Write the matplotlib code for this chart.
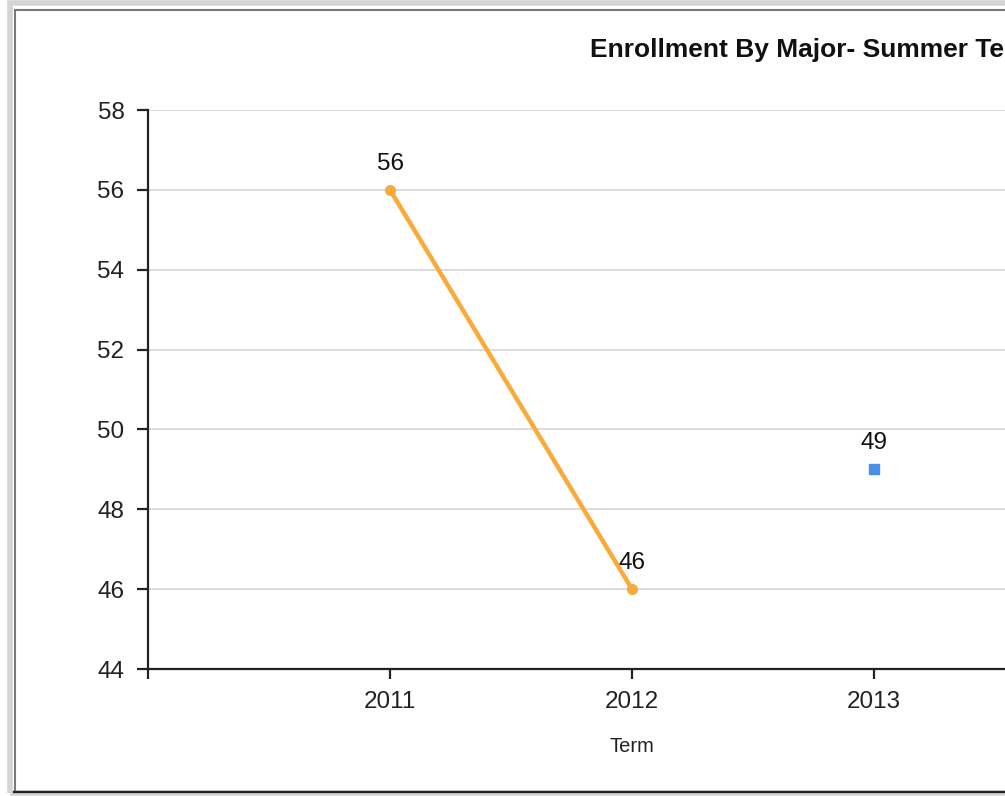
import matplotlib.pyplot as plt
from matplotlib.patches import Rectangle
import numpy as np

plt.rcParams['font.family'] = ['Liberation Sans', 'DejaVu Sans']

terms = [2011, 2012, 2013]
orange_vals = [56, 46, np.nan]
blue_terms = [2013]
blue_vals = [49]
y_ticks = [44, 46, 48, 50, 52, 54, 56, 58]

W, H = 1005, 796
fig = plt.figure(figsize=(W / 100, H / 100), dpi=100)

# frame round the chart (light outer band, dark inner line)
fig.patches.append(Rectangle((10 / W, 3 / H), 1, (H - 6) / H, transform=fig.transFigure,
                             fill=False, ec='#d4d4d4', lw=4))
fig.patches.append(Rectangle((15 / W, 4 / H), 1, (H - 13.5) / H, transform=fig.transFigure,
                             fill=False, ec='#7a7a7a', lw=1.5))
fig.add_artist(plt.Line2D([14 / W, 1], [4 / H, 4 / H], transform=fig.transFigure,
                          color='#222222', lw=1.6))

# axes: 2010 at x=148px, one term per 242px, y from 44 (669px) to 58 (110px)
left = 148 / W
ax = fig.add_axes([left, (H - 669) / H, 4 * 242 / W, (669 - 110) / H])
ax.set_xlim(2010, 2014)
ax.set_ylim(44, 58)

for y in y_ticks[1:]:
    ax.axhline(y, color='#dcdcdc', lw=1.4, zorder=0)

ax.plot(terms, orange_vals, color='#f9aa3a', lw=3.2, marker='o', ms=7,
        solid_capstyle='round', zorder=3)
ax.plot(blue_terms, blue_vals, ls='none', marker='s', ms=6.5, color='#4a8fea', zorder=3)

for x, v in zip(terms, orange_vals):
    if not np.isnan(v):
        ax.annotate(f'{v:g}', (x, v), xytext=(0, 11), textcoords='offset points',
                    ha='center', va='bottom', fontsize=17.5, color='#111111')
for x, v in zip(blue_terms, blue_vals):
    ax.annotate(f'{v:g}', (x, v), xytext=(0, 11), textcoords='offset points',
                ha='center', va='bottom', fontsize=17.5, color='#111111')

ax.set_xticks([2010] + terms)
ax.set_xticklabels([''] + [str(t) for t in terms])
ax.set_yticks(y_ticks)
ax.tick_params(axis='both', labelsize=17.5, colors='#222222', width=1.6)
ax.tick_params(axis='y', length=8, pad=9)
ax.tick_params(axis='x', length=7, pad=9)

for s in ['top', 'right']:
    ax.spines[s].set_visible(False)
for s in ['left', 'bottom']:
    ax.spines[s].set_color('#222222')
    ax.spines[s].set_linewidth(1.6)

fig.text(632 / W, 1 - 746 / H, 'Term', ha='center', va='center', fontsize=14.5, color='#222222')
# the chart is cut at the right edge in the source, so the title runs off the canvas
fig.text(590 / W, 1 - 50 / H, 'Enrollment By Major- Summer Term', ha='left', va='center',
         fontsize=19, fontweight='bold', color='#111111')

fig.savefig('out.png', dpi=100)
